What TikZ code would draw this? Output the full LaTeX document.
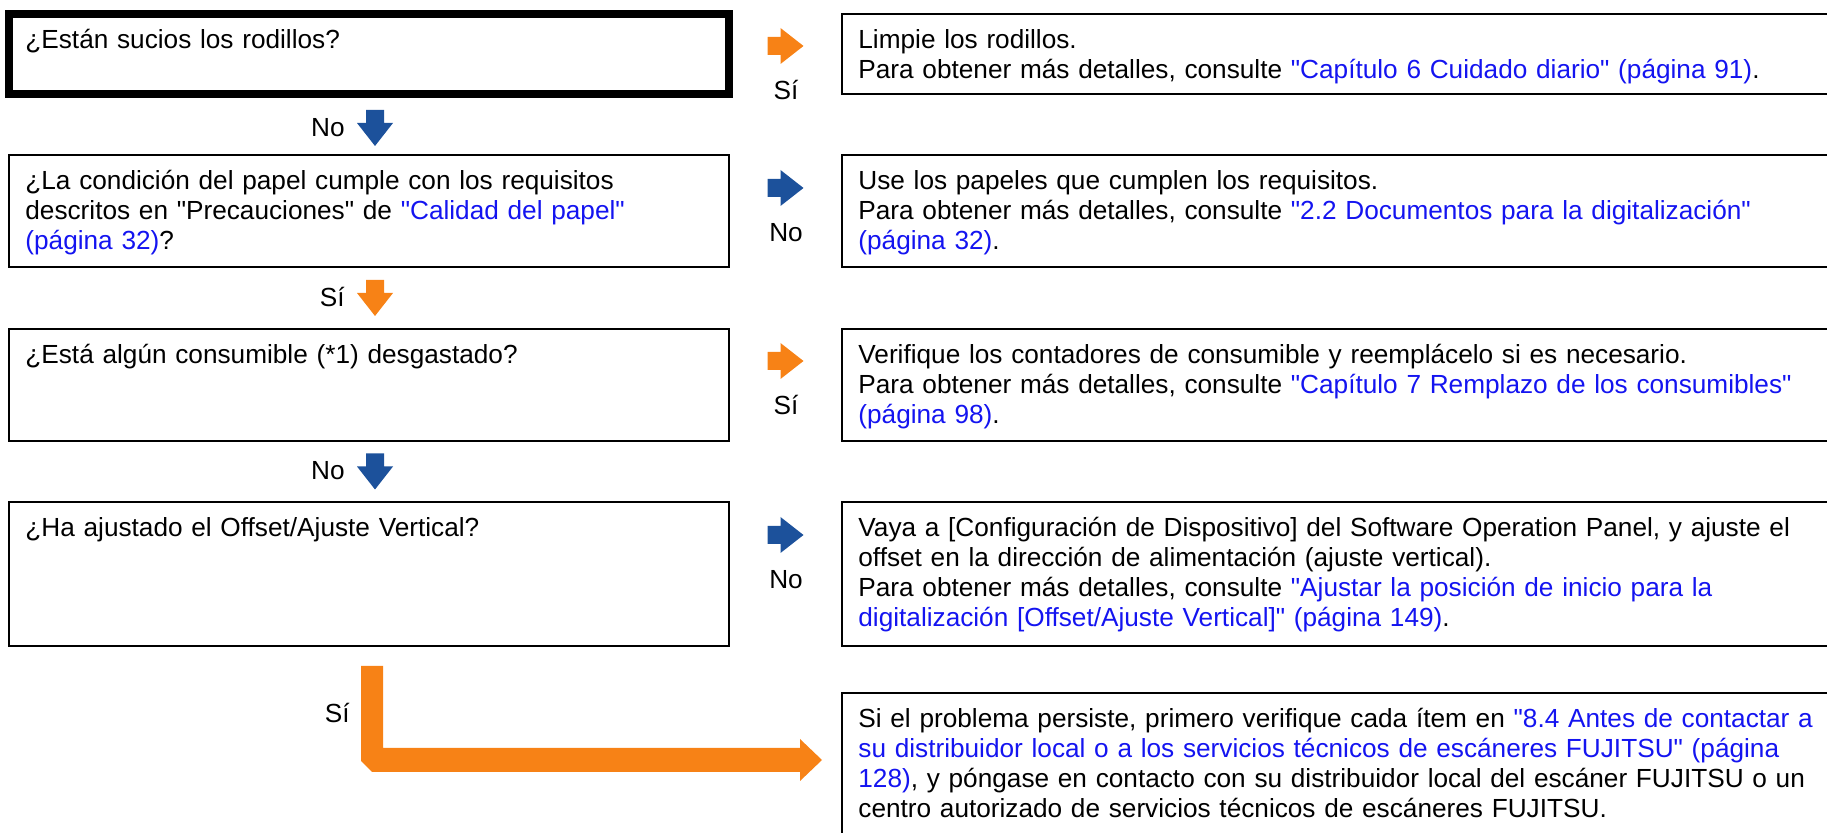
\documentclass[tikz,border=0pt]{standalone}
\usepackage{fontspec}
\newfontfamily\flowfont{Liberation Sans}
\definecolor{yesorange}{RGB}{247,130,22}
\definecolor{noblue}{RGB}{28,81,155}
\definecolor{linkblue}{RGB}{20,20,240}
\newcommand{\reflink}[1]{\textcolor{linkblue}{#1}}

\begin{document}
\begin{tikzpicture}[x=0.5pt,y=-0.5pt,
  font=\flowfont\fontsize{13.1}{15}\selectfont,
  box/.style={draw,line width=1.25pt,inner sep=0pt,outer sep=0pt,anchor=north west},
  txt/.style={inner sep=0pt,anchor=base west,align=left,text width=#1},
  lbl/.style={inner sep=0pt},
  pics/blockarrow/.style={code={
    \path[pic actions] (-18,-9) -- (-5,-9) -- (-5,-18) -- (18,0) -- (-5,18) -- (-5,9) -- (-18,9) -- cycle;}}]
\useasboundingbox (0,0) rectangle (1827,833);
\clip (0,0) rectangle (1827,833);
% question boxes
\node[box,line width=4pt,minimum width=360pt,minimum height=40pt] (q1) at (9,14) {};
\node[box,minimum width=360pt,minimum height=56pt] (q2) at (9,155) {};
\node[box,minimum width=360pt,minimum height=56pt] (q3) at (9,329) {};
\node[box,minimum width=360pt,minimum height=72pt] (q4) at (9,502) {};
% answer boxes
\node[box,minimum width=493.5pt,minimum height=40pt] (a1) at (842,14) {};
\node[box,minimum width=493.5pt,minimum height=56pt] (a2) at (842,155) {};
\node[box,minimum width=493.5pt,minimum height=56pt] (a3) at (842,329) {};
\node[box,minimum width=493.5pt,minimum height=72pt] (a4) at (842,502) {};
\node[box,minimum width=493.5pt,minimum height=80pt] (a5) at (842,693) {};
% texts
\node[txt=350pt] (q1t) at ([shift={(16,35)}]q1.north west) {¿Están sucios los rodillos?};
\node[txt=350pt] (q2t) at ([shift={(16,35)}]q2.north west) {¿La condición del papel cumple con los requisitos\\
  descritos en "Precauciones" de \reflink{"Calidad del papel"}\\
  \reflink{(página 32)}?};
\node[txt=350pt] (q3t) at ([shift={(16,35)}]q3.north west) {¿Está algún consumible (*1) desgastado?};
\node[txt=350pt] (q4t) at ([shift={(16,35)}]q4.north west) {¿Ha ajustado el Offset/Ajuste Vertical?};
\node[txt=490pt] (a1t) at ([shift={(16,35)}]a1.north west) {Limpie los rodillos.\\
  Para obtener más detalles, consulte \reflink{"Capítulo 6 Cuidado diario" (página 91)}.};
\node[txt=490pt] (a2t) at ([shift={(16,35)}]a2.north west) {Use los papeles que cumplen los requisitos.\\
  Para obtener más detalles, consulte \reflink{"2.2 Documentos para la digitalización"}\\
  \reflink{(página 32)}.};
\node[txt=490pt] (a3t) at ([shift={(16,35)}]a3.north west) {Verifique los contadores de consumible y reemplácelo si es necesario.\\
  Para obtener más detalles, consulte \reflink{"Capítulo 7 Remplazo de los consumibles"}\\
  \reflink{(página 98)}.};
\node[txt=490pt] (a4t) at ([shift={(16,35)}]a4.north west) {Vaya a [Configuración de Dispositivo] del Software Operation Panel, y ajuste el\\
  offset en la dirección de alimentación (ajuste vertical).\\
  Para obtener más detalles, consulte \reflink{"Ajustar la posición de inicio para la}\\
  \reflink{digitalización [Offset/Ajuste Vertical]" (página 149)}.};
\node[txt=490pt] (a5t) at ([shift={(16,35)}]a5.north west) {Si el problema persiste, primero verifique cada ítem en \reflink{"8.4 Antes de contactar a}\\
  \reflink{su distribuidor local o a los servicios técnicos de escáneres FUJITSU" (página}\\
  \reflink{128)}, y póngase en contacto con su distribuidor local del escáner FUJITSU o un\\
  centro autorizado de servicios técnicos de escáneres FUJITSU.};
% side arrows
\pic[fill=yesorange] at (785.5,46) {blockarrow};
\pic[fill=noblue] at (785.5,188) {blockarrow};
\pic[fill=yesorange] at (785.5,361) {blockarrow};
\pic[fill=noblue] at (785.5,535) {blockarrow};
\node[lbl,anchor=base] (s1) at (786,100) {Sí};
\node[lbl,anchor=base] (n2) at (786,242) {No};
\node[lbl,anchor=base] (s3) at (786,415) {Sí};
\node[lbl,anchor=base] (n4) at (786,589) {No};
% down arrows
\pic[fill=noblue,rotate=-90] at (375,128) {blockarrow};
\pic[fill=yesorange,rotate=-90] at (375,298) {blockarrow};
\pic[fill=noblue,rotate=-90] at (375,471.5) {blockarrow};
\node[lbl,anchor=base east] (n12) at (345,137) {No};
\node[lbl,anchor=base east] (s23) at (345,307) {Sí};
\node[lbl,anchor=base east] (n34) at (345,480) {No};
% last step
\fill[yesorange] (361,666) -- (383,666) -- (383,748) -- (800,748) -- (800,739) -- (822,760)
  -- (800,781) -- (800,772) -- (372,772) -- (361,761) -- cycle;
\node[lbl,anchor=base east] (s45) at (350,723) {Sí};
\end{tikzpicture}
\end{document}
